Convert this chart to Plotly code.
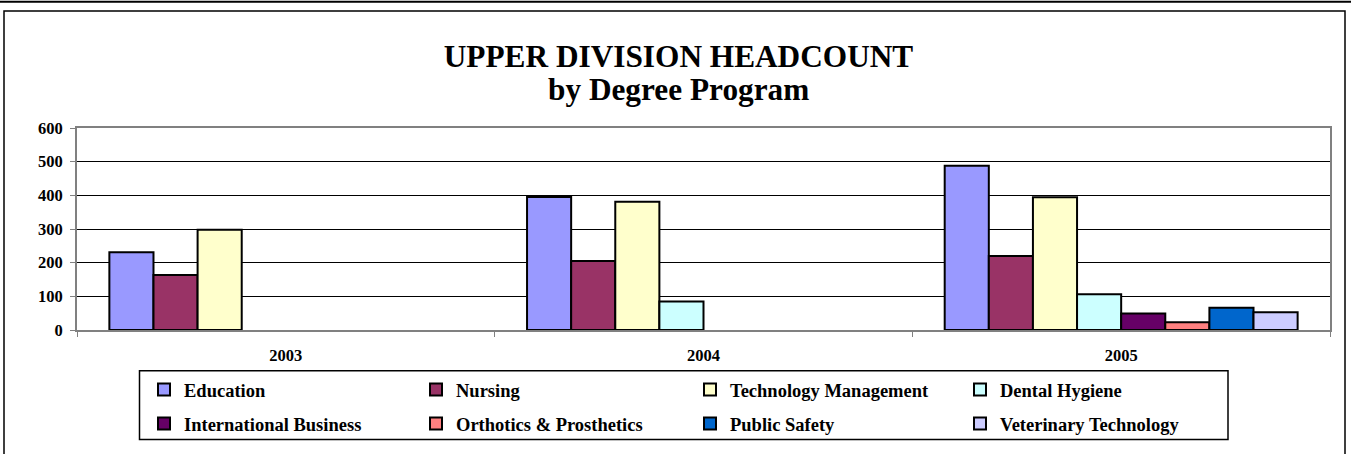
import plotly.graph_objects as go

years = ["2003", "2004", "2005"]
series_names = ["Education", "Nursing", "Technology Management", "Dental Hygiene",
                "International Business", "Orthotics & Prosthetics", "Public Safety",
                "Veterinary Technology"]
education = [231, 395, 488]
nursing = [163, 205, 220]
tech_mgmt = [298, 381, 394]
dental = [None, 85, 106]
intl_business = [None, None, 49]
orthotics = [None, None, 23]
public_safety = [None, None, 66]
veterinary = [None, None, 53]
values = [education, nursing, tech_mgmt, dental, intl_business, orthotics, public_safety, veterinary]
colors = ["#9999FF", "#993366", "#FFFFCC", "#CCFFFF", "#660066", "#FF8080", "#0066CC", "#CCCCFF"]

W, H = 1351, 454
L, R, T, B = 77, 21, 128, 123
pw, ph = W - L - R, H - T - B

def px_x(x):
    return (x - L) / pw

def px_y(y):
    return (H - B - y) / ph

font_family = "Liberation Serif, Times New Roman, serif"
title_size = 31.3
title_cx = 678.5

fig = go.Figure()
legend_cols = [144, 416, 690, 960]
legend_rows = [390, 424]
layout_legends = {}
for i, (name, vals, col) in enumerate(zip(series_names, values, colors)):
    key = "legend" if i == 0 else f"legend{i+1}"
    fig.add_trace(go.Bar(
        x=years, y=vals, name=name, legend=key, showlegend=True,
        marker=dict(color=col, line=dict(color="black", width=2)),
    ))
    layout_legends[key] = dict(
        x=px_x(legend_cols[i % 4]), y=px_y(legend_rows[i // 4]),
        xanchor="left", yanchor="middle", bgcolor="rgba(0,0,0,0)",
        font=dict(family=font_family, size=18.5, color="black", weight="bold"),
    )

fig.update_layout(
    width=W, height=H,
    margin=dict(l=L, r=R, t=T, b=B),
    paper_bgcolor="white", plot_bgcolor="white",
    showlegend=True,
    barmode="group", bargap=0.155, bargroupgap=0,
    title=dict(text="UPPER DIVISION HEADCOUNT",
               x=px_x(title_cx), xref="paper", xanchor="center", yref="container",
               y=1 - 56 / H, yanchor="middle",
               font=dict(family=font_family, size=title_size, color="black", weight="bold")),
    font=dict(family=font_family, color="black"),
    **layout_legends,
)
fig.add_annotation(text="by Degree Program", xref="paper", yref="paper",
                   x=px_x(title_cx), y=px_y(88.9), xanchor="center", yanchor="middle", showarrow=False,
                   font=dict(family=font_family, size=title_size, color="black", weight="bold"))

fig.update_yaxes(range=[0, 600], dtick=100, showgrid=True, gridcolor="black", gridwidth=1,
                 showline=True, linecolor="#808080", linewidth=2, mirror=True,
                 ticks="outside", ticklen=5, tickcolor="#808080", zeroline=False,
                 ticklabelstandoff=4,
                 tickfont=dict(family=font_family, size=16.5, color="black", weight="bold"))
fig.update_xaxes(showline=True, linecolor="#808080", linewidth=2, mirror=True,
                 ticks="outside", ticklen=5, tickcolor="#808080", tickson="boundaries",
                 ticklabelstandoff=9,
                 tickfont=dict(family=font_family, size=16.5, color="black", weight="bold"))

# outer chart frame, top rule and legend box
fig.add_shape(type="line", xref="paper", yref="paper", x0=px_x(0), x1=px_x(W), y0=px_y(1), y1=px_y(1),
              line=dict(color="black", width=2))
fig.add_shape(type="rect", xref="paper", yref="paper", x0=px_x(4), x1=px_x(1345), y0=px_y(470), y1=px_y(10.5),
              line=dict(color="black", width=1.5))
fig.add_shape(type="rect", xref="paper", yref="paper", x0=px_x(139.5), x1=px_x(1228), y0=px_y(441), y1=px_y(372),
              line=dict(color="black", width=1.5))

fig.write_html("out.html", config={"displayModeBar": False},
               post_script="document.body.style.margin='0';")
